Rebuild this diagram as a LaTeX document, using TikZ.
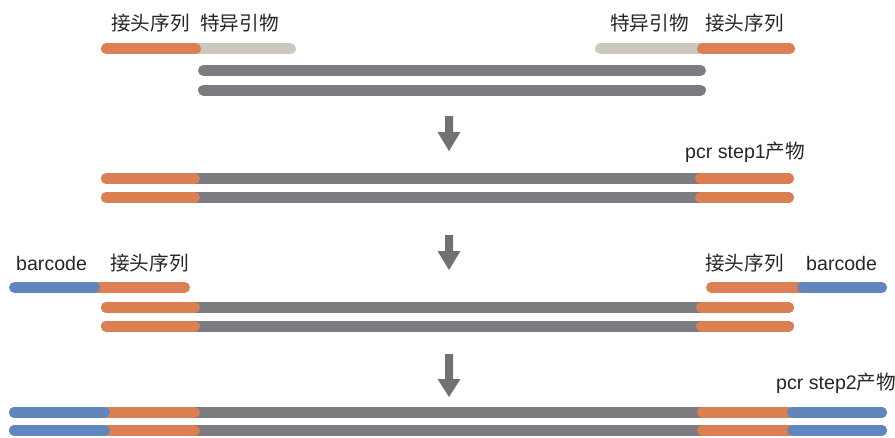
\documentclass[tikz,border=0pt]{standalone}
\usepackage{fontspec}
\setmainfont{Liberation Sans}
\newfontfamily\cjk{Noto Sans CJK SC}
\definecolor{adaptor}{HTML}{DC7F52}
\definecolor{primer}{HTML}{CCC9BC}
\definecolor{template}{HTML}{7D7B80}
\definecolor{barc}{HTML}{6186BE}
\definecolor{arrowc}{HTML}{717075}
\tikzset{
  strand/.style={line width=11pt, line cap=round},
  lbl/.style={anchor=base west, inner sep=0pt, font=\fontsize{19.6}{19.6}\selectfont, text=black!85},
  downarrow/.style={fill=arrowc, draw=none}
}
\newcommand{\blockarrow}[4]{% x, top, headbase, tip
  \fill[downarrow] (#1-4,#2) -- (#1+4,#2) -- (#1+4,#3) -- (#1+11.5,#3) -- (#1,#4) -- (#1-11.5,#3) -- (#1-4,#3) -- cycle;}
\begin{document}
\begin{tikzpicture}[x=1pt,y=-1pt]
\useasboundingbox (0,0) rectangle (895,437);
% ---------- row 1 ----------
\node[lbl] (t1) at (111,30.5) {\cjk 接头序列};
\node[lbl] (t2) at (200,30.5) {\cjk 特异引物};
\node[lbl] (t3) at (610,30.5) {\cjk 特异引物};
\node[lbl] (t4) at (705,30.5) {\cjk 接头序列};
\draw[strand, primer] (106.5,48.8) -- (290.5,48.8);
\draw[strand, adaptor] (106.5,48.8) -- (195.5,48.8);
\draw[strand, primer] (600.5,48.8) -- (789.5,48.8);
\draw[strand, adaptor] (702.5,48.8) -- (789.5,48.8);
\draw[strand, template] (203.5,70.5) -- (700.5,70.5);
\draw[strand, template] (203.5,90) -- (700.5,90);
% arrow 1
\blockarrow{449}{116}{132}{151}
% ---------- row 2 ----------
\node[lbl] (t5) at (685,158) {pcr step1\cjk 产物};
\foreach \y in {178.5,197.5}{
  \draw[strand, template] (106.5,\y) -- (788.5,\y);
  \draw[strand, adaptor] (106.5,\y) -- (194.5,\y);
  \draw[strand, adaptor] (700.5,\y) -- (788.5,\y);
}
% arrow 2
\blockarrow{449}{235}{251}{270}
% ---------- row 3 ----------
\node[lbl] (t6) at (16,270) {barcode};
\node[lbl] (t7) at (110,270.5) {\cjk 接头序列};
\node[lbl] (t8) at (705,270.5) {\cjk 接头序列};
\node[lbl] (t9) at (806,270) {barcode};
\draw[strand, adaptor] (20,287.5) -- (184.5,287.5);
\draw[strand, barc] (14.5,287.5) -- (94.5,287.5);
\draw[strand, adaptor] (711.5,287.5) -- (881.5,287.5);
\draw[strand, barc] (802.5,287.5) -- (881.5,287.5);
\foreach \y in {307.5,326}{
  \draw[strand, template] (106.5,\y) -- (788.5,\y);
  \draw[strand, adaptor] (106.5,\y) -- (194.5,\y);
  \draw[strand, adaptor] (701.5,\y) -- (788.5,\y);
}
% arrow 3
\blockarrow{449}{354}{379}{397}
% ---------- row 4 ----------
\node[lbl] (t10) at (776,389.5) {pcr step2\cjk 产物};
\foreach \y in {412.5,430.5}{
  \draw[strand, template] (14.5,\y) -- (881.5,\y);
  \draw[strand, adaptor] (14.5,\y) -- (194.5,\y);
  \draw[strand, barc] (14.5,\y) -- (104.5,\y);
  \draw[strand, adaptor] (702.5,\y) -- (881.5,\y);
  \draw[strand, barc] (792.5,\y) -- (881.5,\y);
}
\end{tikzpicture}
\end{document}
